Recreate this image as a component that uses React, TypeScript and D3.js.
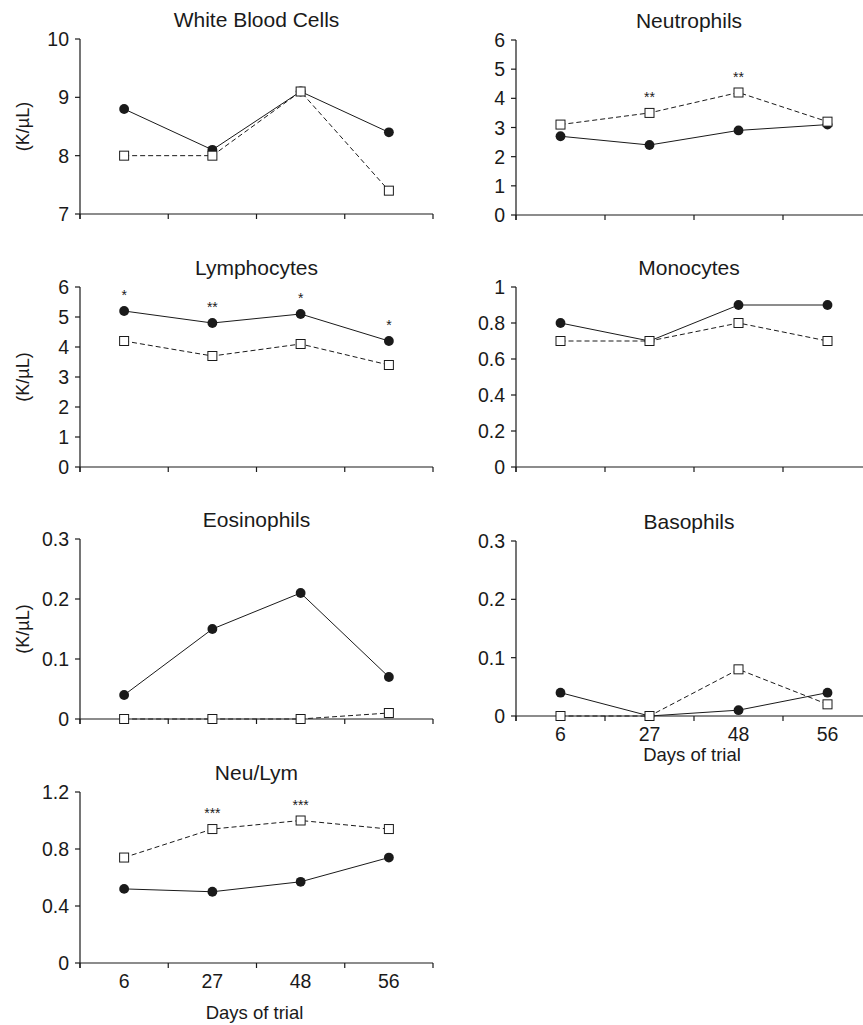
import React from "react";
import * as d3 from "d3";

const days = ["6", "27", "48", "56"];

// Filled circles (solid line) and open squares (dashed line)
const wbcFilled = [8.8, 8.1, 9.1, 8.4];
const wbcOpen = [8.0, 8.0, 9.1, 7.4];
const neuFilled = [2.7, 2.4, 2.9, 3.1];
const neuOpen = [3.1, 3.5, 4.2, 3.2];
const neuStars = ["", "**", "**", ""];
const lymFilled = [5.2, 4.8, 5.1, 4.2];
const lymOpen = [4.2, 3.7, 4.1, 3.4];
const lymStars = ["*", "**", "*", "*"];
const monFilled = [0.8, 0.7, 0.9, 0.9];
const monOpen = [0.7, 0.7, 0.8, 0.7];
const eosFilled = [0.04, 0.15, 0.21, 0.07];
const eosOpen = [0.0, 0.0, 0.0, 0.01];
const basFilled = [0.04, 0.0, 0.01, 0.04];
const basOpen = [0.0, 0.0, 0.08, 0.02];
const nlFilled = [0.52, 0.5, 0.57, 0.74];
const nlOpen = [0.74, 0.94, 1.0, 0.94];
const nlStars = ["", "***", "***", ""];

const wbcTicks = [7, 8, 9, 10];
const neuTicks = [0, 1, 2, 3, 4, 5, 6];
const monTicks = [0, 0.2, 0.4, 0.6, 0.8, 1];
const eosTicks = [0, 0.1, 0.2, 0.3];
const nlTicks = [0, 0.4, 0.8, 1.2];

const FONT = "'Liberation Sans', Arial, Helvetica, sans-serif";
const INK = "#1a1a1a";

type Panel = {
  title: string;
  x0: number;
  x1: number;
  yTop: number;
  yBot: number;
  domain: [number, number];
  ticks: number[];
  filled: number[];
  open: number[];
  stars?: string[];
  yLabel?: boolean;
  xLabels?: boolean;
  xTitleDy?: number;
};

const panels: Panel[] = [
  { title: "White Blood Cells", x0: 80, x1: 433, yTop: 39, yBot: 214, domain: [7, 10], ticks: wbcTicks, filled: wbcFilled, open: wbcOpen, yLabel: true },
  { title: "Neutrophils", x0: 516, x1: 872, yTop: 40, yBot: 215, domain: [0, 6], ticks: neuTicks, filled: neuFilled, open: neuOpen, stars: neuStars },
  { title: "Lymphocytes", x0: 80, x1: 433, yTop: 287, yBot: 467, domain: [0, 6], ticks: neuTicks, filled: lymFilled, open: lymOpen, stars: lymStars, yLabel: true },
  { title: "Monocytes", x0: 516, x1: 872, yTop: 287, yBot: 467, domain: [0, 1], ticks: monTicks, filled: monFilled, open: monOpen },
  { title: "Eosinophils", x0: 80, x1: 433, yTop: 539, yBot: 719, domain: [0, 0.3], ticks: eosTicks, filled: eosFilled, open: eosOpen, yLabel: true },
  { title: "Basophils", x0: 516, x1: 872, yTop: 541, yBot: 716, domain: [0, 0.3], ticks: eosTicks, filled: basFilled, open: basOpen, xLabels: true, xTitleDy: 45 },
  { title: "Neu/Lym", x0: 80, x1: 433, yTop: 792, yBot: 963, domain: [0, 1.2], ticks: nlTicks, filled: nlFilled, open: nlOpen, stars: nlStars, xLabels: true, xTitleDy: 56 },
];

const fmt = (v: number) => (Number.isInteger(v) ? String(v) : String(+v.toFixed(2)));

function PanelView({ p }: { p: Panel }) {
  const x = d3.scaleBand<string>().domain(days).range([p.x0, p.x1]);
  const y = d3.scaleLinear().domain(p.domain).range([p.yBot, p.yTop]);
  const cx = (d: string) => (x(d) as number) + x.bandwidth() / 2;
  const line = d3
    .line<number>()
    .x((_, i) => cx(days[i]))
    .y((v) => y(v));
  const boundaries = [...days.map((d) => x(d) as number), p.x1];
  const midX = (p.x0 + Math.min(p.x1, 862)) / 2;
  return (
    <g>
      <text x={midX} y={p.yTop - 12} textAnchor="middle" fontSize={21} fill={INK} fontFamily={FONT}>
        {p.title}
      </text>
      {/* y axis */}
      <line x1={p.x0} x2={p.x0} y1={p.yTop} y2={p.yBot + 5} stroke={INK} strokeWidth={1.2} />
      {p.ticks.map((t) => (
        <g key={t}>
          <line x1={p.x0 - 5} x2={p.x0} y1={y(t)} y2={y(t)} stroke={INK} strokeWidth={1.2} />
          <text x={p.x0 - 11} y={y(t)} dy="0.36em" textAnchor="end" fontSize={19.5} fill={INK} fontFamily={FONT}>
            {fmt(t)}
          </text>
        </g>
      ))}
      {/* x axis */}
      <line x1={p.x0} x2={p.x1} y1={p.yBot} y2={p.yBot} stroke={INK} strokeWidth={1.2} />
      {boundaries.map((b, i) => (
        <line key={i} x1={b} x2={b} y1={p.yBot} y2={p.yBot + 5} stroke={INK} strokeWidth={1.2} />
      ))}
      {p.xLabels &&
        days.map((d) => (
          <text key={d} x={cx(d)} y={p.yBot + 25} textAnchor="middle" fontSize={19.5} fill={INK} fontFamily={FONT}>
            {d}
          </text>
        ))}
      {p.xLabels && (
        <text x={(p.x0 + p.x1) / 2 - 2} y={p.yBot + (p.xTitleDy || 50)} textAnchor="middle" fontSize={18.5} fill={INK} fontFamily={FONT}>
          Days of trial
        </text>
      )}
      {p.yLabel && (
        <text
          transform={`translate(29, ${(p.yTop + p.yBot) / 2}) rotate(-90)`}
          textAnchor="middle"
          fontSize={18}
          fill={INK}
          fontFamily={FONT}
        >
          (K/µL)
        </text>
      )}
      {/* filled series */}
      <path d={line(p.filled) || ""} fill="none" stroke={INK} strokeWidth={1} />
      {p.filled.map((v, i) => (
        <circle key={i} cx={cx(days[i])} cy={y(v)} r={4.9} fill={INK} />
      ))}
      {/* open series */}
      <path d={line(p.open) || ""} fill="none" stroke={INK} strokeWidth={1} strokeDasharray="5,3" />
      {p.open.map((v, i) => (
        <rect key={i} x={cx(days[i]) - 4.5} y={y(v) - 4.5} width={9} height={9} fill="#fff" stroke={INK} strokeWidth={1} />
      ))}
      {p.stars &&
        p.stars.map((s, i) =>
          s ? (
            <text
              key={i}
              x={cx(days[i])}
              y={y(Math.max(p.filled[i], p.open[i])) - 11}
              textAnchor="middle"
              fontSize={14}
              fill={INK}
              fontFamily={FONT}
            >
              {s}
            </text>
          ) : null
        )}
    </g>
  );
}

export default function App() {
  return (
    <svg
      width={863}
      height={1025}
      viewBox="0 0 863 1025"
      style={{ position: "absolute", left: 0, top: 0, background: "#fff" }}
    >
      <rect width={863} height={1025} fill="#fff" />
      {panels.map((p) => (
        <PanelView key={p.title} p={p} />
      ))}
    </svg>
  );
}
